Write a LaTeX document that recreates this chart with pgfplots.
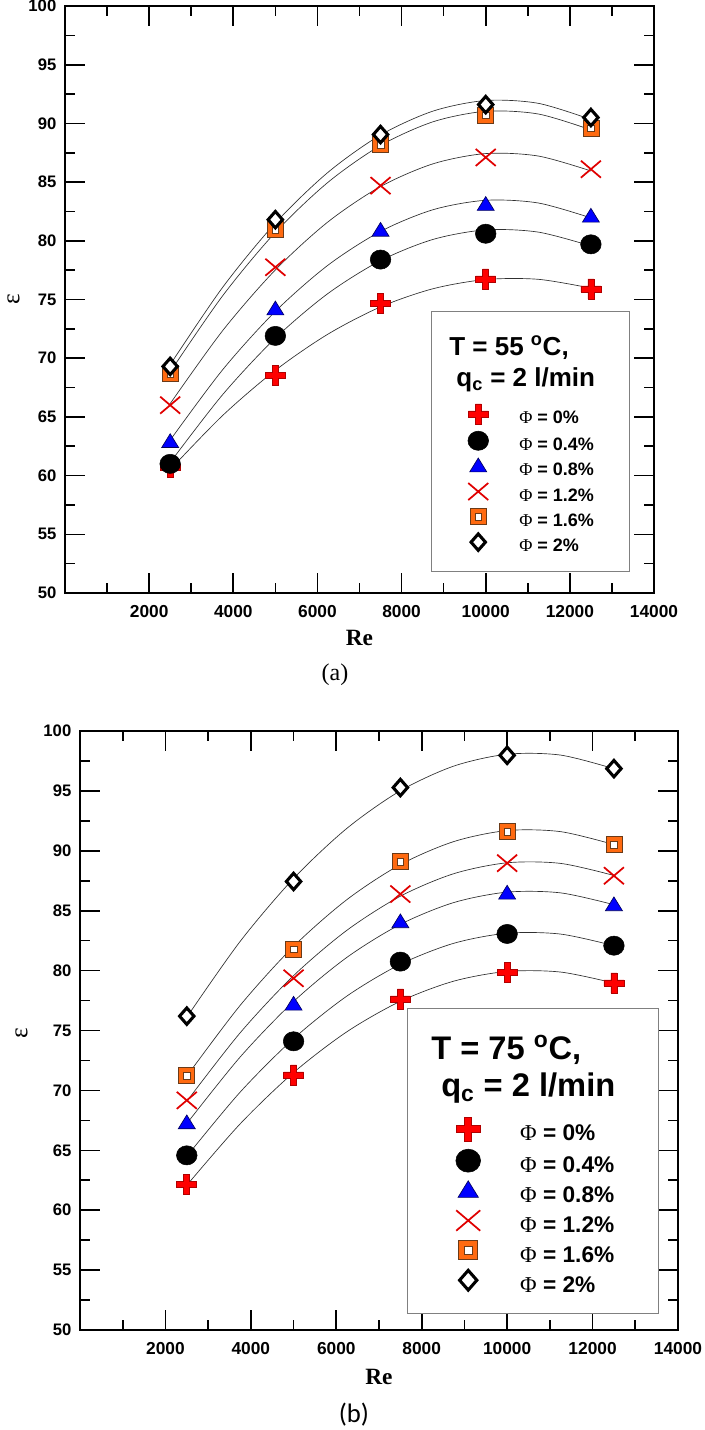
\documentclass[border=0pt]{standalone}
\usepackage{fontspec}
\setmainfont{Liberation Sans}
\newfontfamily\serif{Liberation Serif}
\newfontfamily\carlito{Carlito}
\usepackage{pgfplots}
\pgfplotsset{compat=1.18}

\definecolor{mred}{HTML}{FF0000}
\definecolor{mredd}{HTML}{B00000}
\definecolor{xred}{HTML}{E00000}
\definecolor{mblue}{HTML}{0000FF}
\definecolor{mblued}{HTML}{000060}
\definecolor{morange}{HTML}{FF6A10}
\definecolor{morangd}{HTML}{6A3A18}
\definecolor{fitc}{HTML}{303030}

\pgfdeclareplotmark{fplus}{%
  \pgfmathsetlengthmacro\mka{\pgfplotmarksize}%
  \pgfmathsetlengthmacro\mkw{0.3*\pgfplotmarksize}%
  \pgfpathmoveto{\pgfqpoint{-\mkw}{\mka}}%
  \pgfpathlineto{\pgfqpoint{\mkw}{\mka}}%
  \pgfpathlineto{\pgfqpoint{\mkw}{\mkw}}%
  \pgfpathlineto{\pgfqpoint{\mka}{\mkw}}%
  \pgfpathlineto{\pgfqpoint{\mka}{-\mkw}}%
  \pgfpathlineto{\pgfqpoint{\mkw}{-\mkw}}%
  \pgfpathlineto{\pgfqpoint{\mkw}{-\mka}}%
  \pgfpathlineto{\pgfqpoint{-\mkw}{-\mka}}%
  \pgfpathlineto{\pgfqpoint{-\mkw}{-\mkw}}%
  \pgfpathlineto{\pgfqpoint{-\mka}{-\mkw}}%
  \pgfpathlineto{\pgfqpoint{-\mka}{\mkw}}%
  \pgfpathlineto{\pgfqpoint{-\mkw}{\mkw}}%
  \pgfpathclose
  \pgfusepathqfillstroke}
\pgfdeclareplotmark{fcirc}{%
  \pgfmathsetlengthmacro\mka{1.03*\pgfplotmarksize}%
  \pgfmathsetlengthmacro\mkb{0.96*\pgfplotmarksize}%
  \pgfpathellipse{\pgfpointorigin}{\pgfqpoint{\mka}{0pt}}{\pgfqpoint{0pt}{\mkb}}%
  \pgfusepathqfillstroke}
\pgfdeclareplotmark{ftri}{%
  \pgfmathsetlengthmacro\mka{0.78*\pgfplotmarksize}%
  \pgfmathsetlengthmacro\mkb{0.85*\pgfplotmarksize}%
  \pgfmathsetlengthmacro\mkc{0.6*\pgfplotmarksize}%
  \pgfpathmoveto{\pgfqpoint{0pt}{\mka}}%
  \pgfpathlineto{\pgfqpoint{\mkb}{-\mkc}}%
  \pgfpathlineto{\pgfqpoint{-\mkb}{-\mkc}}%
  \pgfpathclose
  \pgfusepathqfillstroke}
\pgfdeclareplotmark{fx}{%
  \pgfmathsetlengthmacro\mka{\pgfplotmarksize}%
  \pgfmathsetlengthmacro\mkb{0.85*\pgfplotmarksize}%
  \pgfpathmoveto{\pgfqpoint{-\mka}{-\mkb}}%
  \pgfpathlineto{\pgfqpoint{\mka}{\mkb}}%
  \pgfpathmoveto{\pgfqpoint{-\mka}{\mkb}}%
  \pgfpathlineto{\pgfqpoint{\mka}{-\mkb}}%
  \pgfusepathqstroke}
\pgfdeclareplotmark{fsq}{%
  \pgfmathsetlengthmacro\mka{0.8*\pgfplotmarksize}%
  \pgfmathsetlengthmacro\mkb{0.33*\pgfplotmarksize}%
  \pgfpathrectanglecorners{\pgfqpoint{-\mka}{-\mka}}{\pgfqpoint{\mka}{\mka}}%
  \pgfusepathqfillstroke
  \begin{pgfscope}%
  \pgfsetfillcolor{white}%
  \pgfsetlinewidth{0.3pt}%
  \pgfpathrectanglecorners{\pgfqpoint{-\mkb}{-\mkb}}{\pgfqpoint{\mkb}{\mkb}}%
  \pgfusepathqfillstroke
  \end{pgfscope}}
\pgfdeclareplotmark{fdia}{%
  \pgfmathsetlengthmacro\mka{0.72*\pgfplotmarksize}%
  \pgfmathsetlengthmacro\mkb{0.82*\pgfplotmarksize}%
  \pgfpathmoveto{\pgfqpoint{0pt}{\mkb}}%
  \pgfpathlineto{\pgfqpoint{\mka}{0pt}}%
  \pgfpathlineto{\pgfqpoint{0pt}{-\mkb}}%
  \pgfpathlineto{\pgfqpoint{-\mka}{0pt}}%
  \pgfpathclose
  \pgfusepathqfillstroke}

\pgfplotsset{
  mplus/.style={only marks, mark=fplus, draw=mredd, fill=mred, line width=0.5pt},
  mcirc/.style={only marks, mark=fcirc, draw=black, fill=black, line width=0.4pt},
  mtri/.style={only marks, mark=ftri, draw=mblued, fill=mblue, line width=0.5pt},
  mx/.style={only marks, mark=fx, draw=xred, line width=1.3pt},
  msq/.style={only marks, mark=fsq, draw=morangd, fill=morange, line width=0.6pt},
  mdia/.style={only marks, mark=fdia, draw=black, fill=white, line width=2.3pt},
  fit/.style={smooth, fitc, line width=0.5pt, forget plot, mark=none},
  myaxis/.style={
    scale only axis, anchor=south west,
    xmin=0, xmax=14000, ymin=50, ymax=100,
    scaled x ticks=false, scaled y ticks=false,
    xtick={2000,4000,6000,8000,10000,12000,14000},
    xticklabels={2000,4000,6000,8000,10000,12000,14000},
    minor xtick={1000,3000,5000,7000,9000,11000,13000},
    ytick={50,55,60,65,70,75,80,85,90,95,100},
    yticklabels={50,55,60,65,70,75,80,85,90,95,100},
    minor ytick={52.5,57.5,62.5,67.5,72.5,77.5,82.5,87.5,92.5,97.5},
    tick pos=both, tick align=inside,
    major tick length=15pt, minor tick length=7.5pt,
    every tick/.style={black, line width=1.2pt},
    axis line style={line width=1.6pt},
    xticklabel style={font=\bfseries\fontsize{13}{13}\selectfont, yshift=-6pt},
    yticklabel style={font=\bfseries\fontsize{12.5}{12.5}\selectfont, xshift=-3pt},
    mark size=7.5pt,
    legend cell align=left,
  },
}

\begin{document}
\begin{tikzpicture}
\useasboundingbox (0pt,0pt) rectangle (528.75pt,-1072.5pt);

% ---------------- (a) ----------------
\begin{axis}[myaxis,
  at={(48.75pt,-444.75pt)}, width=441.75pt, height=440.25pt,
  xlabel={\serif\bfseries Re},
  xlabel style={at={(axis description cs:0.5,-0.0767)}, anchor=center, font=\fontsize{17.5}{17.5}\selectfont},
  ylabel={\serif ε},
  ylabel style={at={(axis description cs:-0.0874,0.5)}, anchor=center, font=\fontsize{19}{19}\selectfont},
  legend image code/.code={\path[draw=none,fill=none] (-12pt,-1pt) rectangle (12pt,1pt);
    \draw[mark repeat=2,mark phase=2] plot coordinates {(-1pt,3.5pt)(0pt,3.5pt)(1pt,3.5pt)};},
  legend style={at={(axis description cs:0.674,0.3225)}, anchor=north west,
    draw=none, fill=none, inner sep=0pt, row sep=0pt, column sep=18.75pt,
    font=\bfseries\fontsize{13.5}{13.5}\selectfont,
    nodes={inner sep=0pt, text height=13pt, text depth=5.8pt}},
]
\addplot[fit] coordinates {(2500,60.51)(3750,65.13)(5000,68.97)(6250,72.05)(7500,74.37)(8750,75.92)(10000,76.70)(11250,76.72)(12500,75.97)};
\addplot[fit] coordinates {(2500,61.12)(3750,66.91)(5000,71.71)(6250,75.51)(7500,78.31)(8750,80.12)(10000,80.93)(11250,80.74)(12500,79.56)};
\addplot[fit] coordinates {(2500,63.02)(3750,69.03)(5000,73.99)(6250,77.92)(7500,80.80)(8750,82.65)(10000,83.45)(11250,83.22)(12500,81.95)};
\addplot[fit] coordinates {(2500,66.13)(3750,72.36)(5000,77.52)(6250,81.61)(7500,84.62)(8750,86.56)(10000,87.43)(11250,87.22)(12500,85.95)};
\addplot[fit] coordinates {(2500,68.83)(3750,75.33)(5000,80.72)(6250,84.98)(7500,88.12)(8750,90.14)(10000,91.03)(11250,90.80)(12500,89.45)};
\addplot[fit] coordinates {(2500,69.45)(3750,76.05)(5000,81.51)(6250,85.83)(7500,89.01)(8750,91.05)(10000,91.95)(11250,91.71)(12500,90.33)};
\draw[draw=gray, fill=white, line width=0.75pt] (axis description cs:0.623,0.0358) rectangle (axis description cs:0.958,0.479);
\node[anchor=base west, font=\bfseries\fontsize{19.5}{19.5}\selectfont, inner sep=0pt] at (axis description cs:0.652,0.4046) {T = 55 \textsuperscript{o}C,};
\node[anchor=base west, font=\bfseries\fontsize{19.5}{19.5}\selectfont, inner sep=0pt] at (axis description cs:0.664,0.3518) {q\textsubscript{c} = 2 l/min};
\addplot[mplus] coordinates {(2500,60.7)(5000,68.5)(7500,74.7)(10000,76.75)(12500,75.9)};
\addlegendentry{{\serif\mdseries Φ} = 0\%}
\addplot[mcirc] coordinates {(2500,61.0)(5000,71.9)(7500,78.4)(10000,80.6)(12500,79.7)};
\addlegendentry{{\serif\mdseries Φ} = 0.4\%}
\addplot[mtri] coordinates {(2500,62.9)(5000,74.2)(7500,80.9)(10000,83.1)(12500,82.1)};
\addlegendentry{{\serif\mdseries Φ} = 0.8\%}
\addplot[mx] coordinates {(2500,66.0)(5000,77.75)(7500,84.7)(10000,87.1)(12500,86.1)};
\addlegendentry{{\serif\mdseries Φ} = 1.2\%}
\addplot[msq] coordinates {(2500,68.7)(5000,80.95)(7500,88.2)(10000,90.7)(12500,89.6)};
\addlegendentry{{\serif\mdseries Φ} = 1.6\%}
\addplot[mdia] coordinates {(2500,69.3)(5000,81.8)(7500,89.05)(10000,91.6)(12500,90.5)};
\addlegendentry{{\serif\mdseries Φ} = 2\%}
\end{axis}
\node[font=\serif\fontsize{18}{18}\selectfont] at (251.25pt,-506.25pt) {(a)};

% ---------------- (b) ----------------
\begin{axis}[myaxis,
  at={(60pt,-997.5pt)}, width=448.5pt, height=449.25pt,
  xlabel={\serif\bfseries Re},
  xlabel style={at={(axis description cs:0.5,-0.0785)}, anchor=center, font=\fontsize{17.5}{17.5}\selectfont},
  ylabel={\serif ε},
  ylabel style={at={(axis description cs:-0.0977,0.496)}, anchor=center, font=\fontsize{19}{19}\selectfont},
  legend image code/.code={\path[draw=none,fill=none] (-12pt,-1pt) rectangle (12pt,1pt);
    \draw[mark repeat=2,mark phase=2, mark size=9pt] plot coordinates {(-1pt,4.5pt)(0pt,4.5pt)(1pt,4.5pt)};},
  legend style={at={(axis description cs:0.622,0.356)}, anchor=north west,
    draw=none, fill=none, inner sep=0pt, row sep=0pt, column sep=27pt,
    font=\bfseries\fontsize{17}{17}\selectfont,
    nodes={inner sep=0pt, text height=15pt, text depth=6.2pt}},
]
\addplot[fit] coordinates {(2500,62.08)(3750,67.21)(5000,71.49)(6250,74.90)(7500,77.44)(8750,79.12)(10000,79.93)(11250,79.88)(12500,78.96)};
\addplot[fit] coordinates {(2500,64.50)(3750,69.86)(5000,74.32)(6250,77.88)(7500,80.53)(8750,82.28)(10000,83.12)(11250,83.05)(12500,82.08)};
\addplot[fit] coordinates {(2500,67.23)(3750,72.79)(5000,77.42)(6250,81.11)(7500,83.86)(8750,85.68)(10000,86.55)(11250,86.49)(12500,85.50)};
\addplot[fit] coordinates {(2500,69.09)(3750,74.81)(5000,79.58)(6250,83.37)(7500,86.21)(8750,88.09)(10000,89.00)(11250,88.95)(12500,87.94)};
\addplot[fit] coordinates {(2500,71.19)(3750,77.10)(5000,82.02)(6250,85.93)(7500,88.85)(8750,90.77)(10000,91.69)(11250,91.60)(12500,90.52)};
\addplot[fit] coordinates {(2500,76.11)(3750,82.44)(5000,87.69)(6250,91.88)(7500,95.01)(8750,97.07)(10000,98.06)(11250,97.99)(12500,96.85)};
\draw[draw=gray, fill=white, line width=0.75pt] (axis description cs:0.548,0.0284) rectangle (axis description cs:0.967,0.536);
\node[anchor=base west, font=\bfseries\fontsize{24.5}{24.5}\selectfont, inner sep=0pt] at (axis description cs:0.587,0.4508) {T = 75 \textsuperscript{o}C,};
\node[anchor=base west, font=\bfseries\fontsize{24.5}{24.5}\selectfont, inner sep=0pt] at (axis description cs:0.6037,0.389) {q\textsubscript{c} = 2 l/min};
\addplot[mplus] coordinates {(2500,62.14)(5000,71.3)(7500,77.64)(10000,79.86)(12500,78.97)};
\addlegendentry{{\serif\mdseries Φ} = 0\%}
\addplot[mcirc] coordinates {(2500,64.58)(5000,74.1)(7500,80.75)(10000,83.06)(12500,82.08)};
\addlegendentry{{\serif\mdseries Φ} = 0.4\%}
\addplot[mtri] coordinates {(2500,67.3)(5000,77.2)(7500,84.08)(10000,86.47)(12500,85.5)};
\addlegendentry{{\serif\mdseries Φ} = 0.8\%}
\addplot[mx] coordinates {(2500,69.17)(5000,79.36)(7500,86.39)(10000,88.97)(12500,87.92)};
\addlegendentry{{\serif\mdseries Φ} = 1.2\%}
\addplot[msq] coordinates {(2500,71.25)(5000,81.8)(7500,89.08)(10000,91.58)(12500,90.53)};
\addlegendentry{{\serif\mdseries Φ} = 1.6\%}
\addplot[mdia] coordinates {(2500,76.2)(5000,87.44)(7500,95.28)(10000,97.97)(12500,96.86)};
\addlegendentry{{\serif\mdseries Φ} = 2\%}
\end{axis}
\node[font=\carlito\fontsize{20}{20}\selectfont] at (265.5pt,-1061.25pt) {(b)};
\end{tikzpicture}
\end{document}
